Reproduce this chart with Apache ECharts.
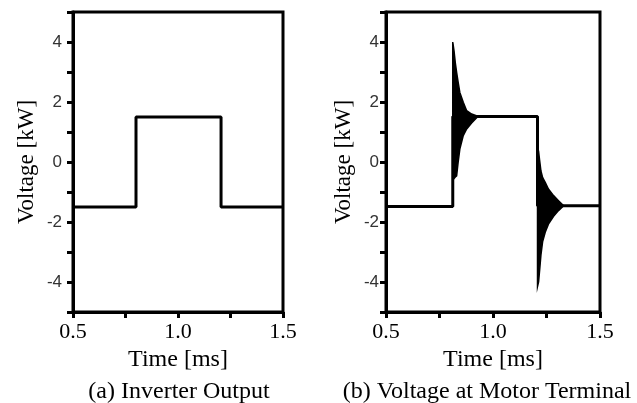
<!DOCTYPE html>
<html>
<head>
<meta charset="utf-8">
<script src="https://cdn.jsdelivr.net/npm/echarts@6/dist/echarts.min.js"></script>
<style>
html,body{margin:0;padding:0;background:#fff;}
#c{width:637px;height:403px;}
</style>
</head>
<body>
<div id="c"></div>
<script>
// ---- Data ----
// (a) Inverter output: square-wave step points
const timeA = [0.5, 0.8, 0.8, 1.205, 1.205, 1.5];
const voltA = [-1.5, -1.5, 1.5, 1.5, -1.5, -1.5];
// (b) Voltage at motor terminal: base step waveform
const timeB = [0.5, 0.812, 0.812, 1.208, 1.208, 1.5];
const voltB = [-1.48, -1.48, 1.52, 1.52, -1.46, -1.46];
// Ringing after rising edge: envelope of the dense oscillation
const ring1Time  = [0.812, 0.818, 0.824, 0.830, 0.837, 0.845, 0.861, 0.877, 0.900, 0.930];
const ring1Upper = [4.00, 3.70, 3.30, 2.99, 2.66, 2.32, 1.99, 1.71, 1.60, 1.52];
const ring1Lower = [-0.60, -0.55, -0.50, -0.46, -0.01, 0.43, 0.88, 1.10, 1.30, 1.52];
// Ringing after falling edge: envelope of the dense oscillation
const ring2Time  = [1.208, 1.213, 1.218, 1.224, 1.232, 1.244, 1.259, 1.283, 1.306, 1.330];
const ring2Upper = [0.50, 0.35, 0.05, -0.30, -0.52, -0.68, -0.90, -1.12, -1.29, -1.46];
const ring2Lower = [-4.15, -4.00, -3.60, -3.10, -2.65, -2.34, -2.07, -1.81, -1.62, -1.46];
// Axis ranges / tick labels
const yMin = -5, yMax = 5, yStep = 1;
const yLabels = [-4, -2, 0, 2, 4];
const xMin = 0.5, xMax = 1.5, xStep = 0.25;
const xLabels = [0.5, 1.0, 1.5];
const captions = ['(a) Inverter Output', '(b) Voltage at Motor Terminal'];
const xName = 'Time [ms]';
const yName = 'Voltage [kW]';

// ---- Chart ----
const serif = "'Liberation Serif', 'Times New Roman', serif";
const sans = "'Liberation Sans', Arial, sans-serif";
const zip = (a, b) => a.map((v, i) => [v, b[i]]);

function xAxisFor(gi) {
  return {
    gridIndex: gi, type: 'value', min: xMin, max: xMax, interval: xStep,
    name: xName, nameLocation: 'middle', nameGap: 34,
    nameTextStyle: {fontFamily: serif, fontSize: 24, color: '#000'},
    axisLine: {show: true, onZero: false, lineStyle: {color: '#000', width: 3}},
    axisTick: {show: true, inside: false, length: 6, lineStyle: {color: '#000', width: 3}},
    axisLabel: {
      margin: 9, fontFamily: serif, fontSize: 22, color: '#000',
      formatter: v => xLabels.some(l => Math.abs(l - v) < 1e-9) ? v.toFixed(1) : ''
    },
    splitLine: {show: false}
  };
}
function yAxisFor(gi, gap, margin) {
  return {
    gridIndex: gi, type: 'value', min: yMin, max: yMax, interval: yStep,
    name: yName, nameLocation: 'middle', nameGap: gap,
    nameTextStyle: {fontFamily: serif, fontSize: 23, color: '#000'},
    axisLine: {show: true, onZero: false, lineStyle: {color: '#000', width: 3}},
    axisTick: {show: true, inside: false, length: 6, lineStyle: {color: '#000', width: 3}},
    axisLabel: {
      margin: margin, fontFamily: sans, fontSize: 17, color: '#333',
      formatter: v => yLabels.indexOf(v) >= 0 ? String(v) : ''
    },
    splitLine: {show: false}
  };
}
function envelopeSeries(gi, times, upper, lower) {
  return {
    type: 'custom', xAxisIndex: gi, yAxisIndex: gi, clip: true,
    data: [[times[0], upper[0]]],
    renderItem: function (params, api) {
      const pts = [];
      for (let i = 0; i < times.length; i++) pts.push(api.coord([times[i], upper[i]]));
      for (let i = times.length - 1; i >= 0; i--) pts.push(api.coord([times[i], lower[i]]));
      return {type: 'polygon', shape: {points: pts}, style: {fill: '#000', stroke: '#000', lineWidth: 1.5}};
    },
    silent: true, z: 3
  };
}

const chart = echarts.init(document.getElementById('c'), null, {renderer: 'canvas'});
chart.setOption({
  animation: false,
  backgroundColor: '#fff',
  title: [
    {text: captions[0], left: 174, top: 375, textAlign: 'center',
     textStyle: {fontFamily: serif, fontSize: 24, fontWeight: 'normal', color: '#000'}},
    {text: captions[1], left: 482, top: 375, textAlign: 'center',
     textStyle: {fontFamily: serif, fontSize: 24, fontWeight: 'normal', color: '#000'}}
  ],
  grid: [
    {left: 73, top: 12, width: 210, height: 300, show: true, borderColor: '#000', borderWidth: 3, backgroundColor: 'transparent'},
    {left: 386, top: 12, width: 214, height: 300, show: true, borderColor: '#000', borderWidth: 3, backgroundColor: 'transparent'}
  ],
  xAxis: [xAxisFor(0), xAxisFor(1)],
  yAxis: [yAxisFor(0, 35, 11), yAxisFor(1, 31, 7)],
  series: [
    {type: 'line', xAxisIndex: 0, yAxisIndex: 0, data: zip(timeA, voltA), showSymbol: false,
     lineStyle: {color: '#000', width: 3}, silent: true, z: 4},
    envelopeSeries(1, ring1Time, ring1Upper, ring1Lower),
    envelopeSeries(1, ring2Time, ring2Upper, ring2Lower),
    {type: 'line', xAxisIndex: 1, yAxisIndex: 1, data: zip(timeB, voltB), showSymbol: false,
     lineStyle: {color: '#000', width: 3}, silent: true, z: 4}
  ]
});
</script>
</body>
</html>
